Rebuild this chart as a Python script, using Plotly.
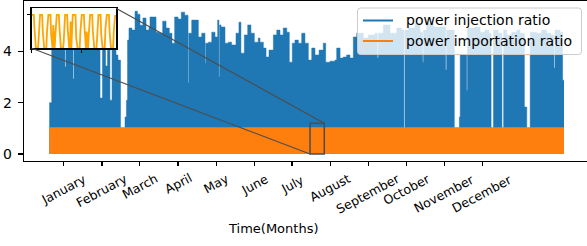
import plotly.graph_objects as go

# ---------------- data ----------------
months = ["January", "February", "March", "April", "May", "June", "July",
          "August", "September", "October", "November", "December"]
month_tick_days = [9.9, 37.2, 64.1, 91.3, 118.4, 145.4, 172.1, 199.3, 226.2, 253.2, 280.1, 307.1]

# power injection ratio: peak envelope (day of year, value)
inj_day = [0, 1.7, 4.75, 7.6, 11.1, 11.8, 14.7, 16.8, 17.5, 21.8, 27.4, 32.4, 36.0, 37.7, 39.9,
           41.3, 43.0, 44.5, 47.3, 48.7, 50.5, 53.7, 54.7, 55.5, 56.5, 58.6, 60.8, 62.5, 64.3,
           66.4, 68.6, 70.7, 71.4, 73.8, 75.7, 78.0, 80.4, 82.8, 85.1, 87.0, 88.9, 91.3, 93.6,
           96.0, 98.4, 98.9, 101.0, 103.3, 105.7, 108.1, 110.4, 110.9, 112.8, 115.2, 117.5,
           119.4, 120.3, 120.8, 121.8, 124.6, 126.9, 129.3, 132.4, 134.5, 135.9, 138.3, 140.7,
           143.0, 145.4, 148.2, 149.4, 151.8, 153.7, 155.8, 158.9, 161.3, 163.6, 165.9, 168.4,
           170.2, 172.3, 174.2, 176.6, 179.0, 181.3, 183.7, 186.1, 188.4, 191.3, 194.3, 196.0,
           199.1, 202.6, 203.8, 206.2, 208.5, 210.9, 213.2, 215.6, 218.0, 222.7, 226.2, 231.0,
           232.6, 233.3, 236.9, 241.6, 246.4, 249.9, 251.5, 252.2, 254.6, 259.3, 262.9, 264.8,
           265.4, 267.6, 272.3, 277.1, 281.1, 281.8, 284.2, 287.2, 290.8, 291.4, 296.0, 296.6,
           301.9, 305.5, 309.0, 311.8, 313.3, 315.0, 318.4, 321.0, 322.2, 324.4, 327.9, 331.5,
           333.8, 336.9, 338.6, 341.0, 345.6, 349.2, 352.7, 355.8, 357.9, 358.6, 362.2, 364.0, 365.0]
inj_peak = [2.00, 4.6, 4.6, 4.8, 3.39, 4.8, 4.6, 2.92, 4.8, 5.0, 4.6, 4.8, 2.18, 4.25, 3.43,
            4.25, 2.10, 4.25, 3.86, 3.66, 0.9, 1.44, 2.10, 4.44, 4.91, 4.83, 5.57, 5.45, 5.02,
            5.30, 4.83, 4.95, 5.34, 5.34, 4.75, 4.71, 5.18, 4.91, 4.71, 4.32, 5.34, 5.26, 5.53,
            5.41, 2.77, 4.71, 5.22, 5.22, 4.56, 4.71, 3.54, 4.32, 4.36, 4.75, 4.56,
            5.22, 3.0, 5.03, 4.95, 4.32, 4.36, 4.25, 4.71, 5.14, 3.93, 4.64, 5.03,
            4.71, 4.36, 4.52, 4.36, 4.13, 3.78, 4.05, 4.64, 4.83, 4.64, 4.91, 4.75,
            3.58, 4.32, 4.44, 4.32, 4.71, 4.32, 3.66, 4.13, 3.86, 4.05, 4.32, 3.58,
            3.62, 3.66, 4.13, 3.74, 3.78, 3.86, 3.74, 4.56, 4.71, 4.52, 4.64, 4.71,
            3.74, 4.71, 5.03, 4.71, 4.91, 4.83, 0.9, 4.83, 4.91, 5.10, 4.75, 3.58,
            4.83, 5.10, 4.95, 4.95, 3.27, 4.83, 4.83, 0.9, 1.44, 3.86, 2.49, 4.91,
            4.95, 4.75, 4.83, 4.71, 1.0, 4.83, 4.71, 0.9, 4.83, 4.64, 4.75, 4.83,
            4.71, 1.83, 0.9, 4.75, 4.71, 4.83, 4.71, 4.64, 3.35, 4.83, 4.75, 2.88, 2.88]

# power importation ratio: weekly peak (day of year, value)
imp_day = [0, 7, 14, 21, 28, 35, 42, 49, 56, 63, 70, 77, 84, 91, 98, 105, 112, 119, 126, 133,
           140, 147, 154, 161, 168, 175, 182, 189, 196, 203, 210, 217, 224, 231, 238, 245, 252,
           259, 266, 273, 280, 287, 294, 301, 308, 315, 322, 329, 336, 343, 350, 357, 365]
imp_peak = [1.0] * 53

# zoomed window (inset): importation ratio every 2 hours
inset_start_day = 184.9
inset_end_day = 195.0
inset_step_day = 2 / 24
inset_imp = [
    1, 1, 1, 1, 0.6, 0, 0, 0, 0, 0, 0.3, 1,
    1, 1, 1, 1, 0.5, 0, 0, 0, 0, 0, 0.5, 1,
    1, 1, 1, 1, 0.4, 0, 0, 0.7, 0, 0, 0.4, 1,
    1, 1, 1, 1, 0.6, 0, 0, 0, 0, 0, 0.2, 1,
    1, 1, 1, 1, 0.5, 0, 0, 0, 0.8, 0, 0.6, 1,
    1, 1, 1, 1, 0.3, 0, 0, 0, 0, 0, 0.5, 1,
    1, 1, 1, 1, 0.6, 0, 0, 0.5, 0, 0, 0.4, 1,
    1, 1, 1, 1, 0.5, 0, 0, 0, 0, 0, 0.3, 1,
    1, 1, 1, 1, 0.4, 0, 0, 0, 0, 0, 0.6, 1,
    1, 1, 1, 1, 0.5, 0, 0, 0, 0, 0, 0.5, 1,
    1]
inset_ylim = [0, 1.2]

series_names = ["power injection ratio", "power importation ratio"]
BLUE = "#1f77b4"
ORANGE = "#ff7f0e"
FONT = "DejaVu Sans"

# ---------------- geometry ----------------
W, H = 587, 246
PL, PR, PT, PB = 24, 587, 1, 161
k = (564.0 - 49.3) / 365.0
xr = [(PL - 49.3) / k, (PR - 49.3) / k]
yu = 25.65
yr = [(154 - PB) / yu, (154 - PT) / yu]


def pxx(px):
    return (px - PL) / (PR - PL)


def pxy(py):
    return (PB - py) / (PB - PT)


def dx(d):
    return (d - xr[0]) / (xr[1] - xr[0])


def dy(v):
    return (v - yr[0]) / (yr[1] - yr[0])


ins_x = [pxx(31.7), pxx(116.0)]
ins_y = [pxy(48.3), pxy(8.3)]

fig = go.Figure()
fig.add_trace(go.Scatter(x=inj_day, y=inj_peak, mode="lines", line=dict(color=BLUE, width=0.5, shape="hv"),
                         fill="tozeroy", fillcolor=BLUE, name=series_names[0], hoverinfo="skip"))
fig.add_trace(go.Scatter(x=imp_day, y=imp_peak, mode="lines", line=dict(color=ORANGE, width=2, shape="hv"),
                         fill="tozeroy", fillcolor=ORANGE, name=series_names[1], hoverinfo="skip"))

# inset background + inset series
fig.add_trace(go.Scatter(x=[inset_start_day, inset_end_day, inset_end_day, inset_start_day, inset_start_day],
                         y=[inset_ylim[0], inset_ylim[0], inset_ylim[1], inset_ylim[1], inset_ylim[0]],
                         fill="toself", fillcolor="white", mode="lines", line=dict(width=0),
                         xaxis="x2", yaxis="y2", hoverinfo="skip", showlegend=False))
inset_x = [inset_start_day + i * inset_step_day for i in range(len(inset_imp))]
fig.add_trace(go.Scatter(x=inset_x, y=inset_imp, mode="lines", line=dict(color="orange", width=1.8),
                         xaxis="x2", yaxis="y2", hoverinfo="skip", showlegend=False))

shapes = []
# zoom box on main axes
shapes.append(dict(type="rect", xref="x", yref="y", x0=inset_start_day, x1=inset_end_day,
                   y0=inset_ylim[0], y1=inset_ylim[1], line=dict(color="#4d4d4d", width=1.5), layer="above"))
# connectors
shapes.append(dict(type="line", xref="paper", yref="paper", x0=ins_x[0], y0=ins_y[0],
                   x1=dx(inset_start_day), y1=dy(inset_ylim[0]), line=dict(color="#4d4d4d", width=1.2), layer="above"))
shapes.append(dict(type="line", xref="paper", yref="paper", x0=ins_x[1], y0=ins_y[1],
                   x1=dx(inset_end_day), y1=dy(inset_ylim[1]), line=dict(color="#4d4d4d", width=1.2), layer="above"))

# legend box
lx0, lx1, ly0, ly1, r = 357.5, 581.5, 8.0, 54.5, 3
path = (f"M {pxx(lx0 + r)},{pxy(ly0)} L {pxx(lx1 - r)},{pxy(ly0)} "
        f"Q {pxx(lx1)},{pxy(ly0)} {pxx(lx1)},{pxy(ly0 + r)} L {pxx(lx1)},{pxy(ly1 - r)} "
        f"Q {pxx(lx1)},{pxy(ly1)} {pxx(lx1 - r)},{pxy(ly1)} L {pxx(lx0 + r)},{pxy(ly1)} "
        f"Q {pxx(lx0)},{pxy(ly1)} {pxx(lx0)},{pxy(ly1 - r)} L {pxx(lx0)},{pxy(ly0 + r)} "
        f"Q {pxx(lx0)},{pxy(ly0)} {pxx(lx0 + r)},{pxy(ly0)} Z")
shapes.append(dict(type="path", xref="paper", yref="paper", path=path,
                   fillcolor="rgba(255,255,255,0.8)", line=dict(color="#cccccc", width=1), layer="above"))
annotations = []
for i, (col, yy) in enumerate([(BLUE, 20.5), (ORANGE, 41.0)]):
    shapes.append(dict(type="line", xref="paper", yref="paper", x0=pxx(363), x1=pxx(393),
                       y0=pxy(yy), y1=pxy(yy), line=dict(color=col, width=2), layer="above"))
    annotations.append(dict(x=pxx(404), y=pxy(yy), xref="paper", yref="paper", text=series_names[i],
                            showarrow=False, xanchor="left", yanchor="middle",
                            font=dict(family=FONT, size=14, color="black")))

# month labels (centre of each rotated label, pixel rows)
month_label_cy = [189.2, 190.8, 186.7, 183.3, 183.3, 184.0, 184.0, 187.5, 193.3, 189.0, 193.3, 193.3]
for d, m, cy in zip(month_tick_days, months, month_label_cy):
    annotations.append(dict(x=d, y=pxy(cy), xref="x", yref="paper", text=m, textangle=-28,
                            showarrow=False, xanchor="center", yanchor="middle",
                            font=dict(family=FONT, size=12.5, color="black")))
annotations.append(dict(x=pxx(272.5), y=pxy(228), xref="paper", yref="paper", text="Time(Months)",
                        showarrow=False, xanchor="center", yanchor="middle",
                        font=dict(family=FONT, size=13, color="black")))

fig.update_layout(
    template="none",
    width=W, height=H, margin=dict(l=PL, r=W - PR, t=PT, b=H - PB, pad=0, autoexpand=False),
    paper_bgcolor="white", plot_bgcolor="white", showlegend=False,
    font=dict(family=FONT, size=14, color="black"),
    xaxis=dict(range=xr, automargin=False, showgrid=False, zeroline=False, showline=True, mirror=True,
               linecolor="black", linewidth=1.2, ticks="outside", ticklen=4, tickwidth=1.5, tickcolor="black",
               tickvals=month_tick_days, ticktext=[""] * len(month_tick_days)),
    yaxis=dict(range=yr, automargin=False, showgrid=False, zeroline=False, showline=True, linecolor="black",
               linewidth=1.2, ticks="outside", ticklen=5, tickwidth=1.2, tickcolor="black", tickvals=[0, 2, 4],
               tickfont=dict(family=FONT, size=14, color="black"), ticklabelstandoff=3),
    xaxis2=dict(domain=ins_x, anchor="y2", automargin=False, range=[inset_start_day, inset_end_day],
                showgrid=False, zeroline=False, showline=True, mirror=True, linecolor="black", linewidth=1.5,
                ticks="outside", ticklen=3, tickcolor="black", tickvals=[inset_start_day, 190.9],
                showticklabels=False),
    yaxis2=dict(domain=ins_y, anchor="x2", automargin=False, range=inset_ylim, showgrid=False, zeroline=False,
                showline=True, mirror=True, linecolor="black", linewidth=1.5, ticks="outside",
                ticklen=3, tickcolor="black", tickvals=[1], showticklabels=False),
    shapes=shapes, annotations=annotations,
)

fig.write_html("out.html", config={"displayModeBar": False, "staticPlot": True},
               post_script="document.body.style.margin='0';document.body.style.overflow='hidden';")
